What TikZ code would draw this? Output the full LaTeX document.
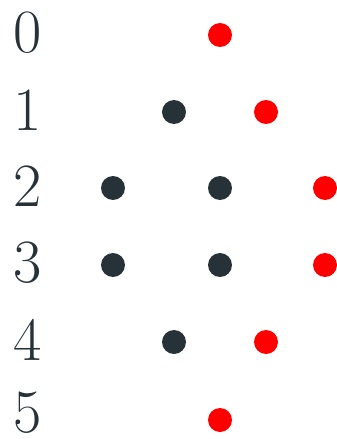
\documentclass[tikz,border=0pt]{standalone}
\usepackage{xcolor}
\usepackage{tikz}
\usetikzlibrary{positioning}

\definecolor{slate}{HTML}{263238}

\begin{document}
\begin{tikzpicture}[
  x=0.02cm, y=-0.02cm,
  num/.style={text=slate, font=\fontsize{35}{40}\selectfont, inner sep=0pt},
  dot/.style={circle, fill=slate, minimum size=0.48cm, inner sep=0pt},
  rdot/.style={dot, fill=red},
]
\useasboundingbox (0,0) rectangle (337,439);

% -- row labels --
\node[num] (n0) at (28,33)  {0};
\node[num] (n1) at (28,110) {1};
\node[num] (n2) at (28,186) {2};
\node[num] (n3) at (28,263) {3};
\node[num] (n4) at (28,340) {4};
\node[num] (n5) at (28,413) {5};

% -- points --
\node[rdot] (p0c) at (220,35) {};

\node[dot]  (p1l) at (174,112) {};
\node[rdot] (p1r) at (266,112) {};

\node[dot]  (p2l) at (113,188) {};
\node[dot]  (p2c) at (220,188) {};
\node[rdot] (p2r) at (325,188) {};

\node[dot]  (p3l) at (113,265) {};
\node[dot]  (p3c) at (220,265) {};
\node[rdot] (p3r) at (325,265) {};

\node[dot]  (p4l) at (174,342) {};
\node[rdot] (p4r) at (266,342) {};

\node[rdot] (p5c) at (220,420) {};

\end{tikzpicture}
\end{document}
